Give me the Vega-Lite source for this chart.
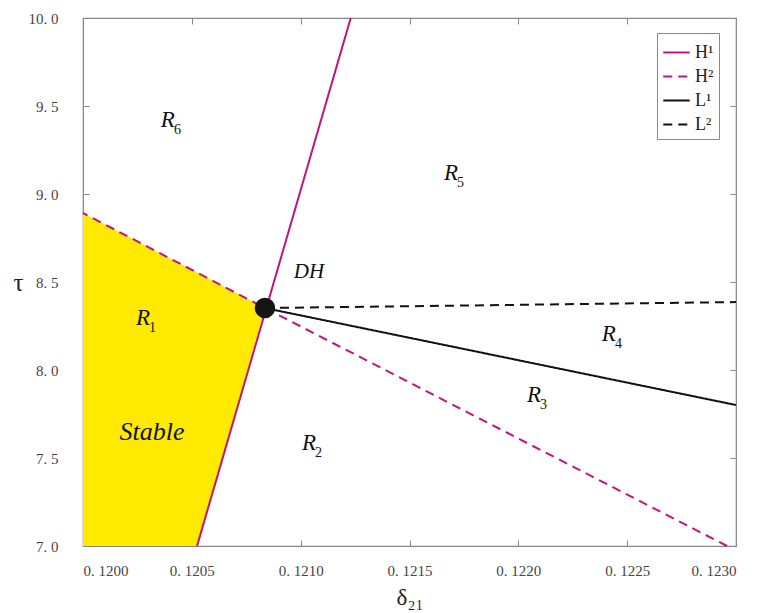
{
  "$schema": "https://vega.github.io/schema/vega-lite/v6.json",
  "width": 653,
  "height": 528,
  "autosize": "none",
  "padding": {"left": 83, "top": 18, "right": 27, "bottom": 67},
  "background": "white",
  "config": {
    "view": {"stroke": "#888", "strokeWidth": 1.2},
    "font": "Liberation Serif"
  },
  "datasets": {
    "stable": [
      {"tau": 7.0, "xEdge": 0.120524, "xLeft": 0.12},
      {"tau": 8.352, "xEdge": 0.120836, "xLeft": 0.12},
      {"tau": 8.892, "xEdge": 0.12, "xLeft": 0.12}
    ],
    "curves": [
      {"curve": "H¹", "delta": 0.120524, "tau": 7.0},
      {"curve": "H¹", "delta": 0.12123, "tau": 10.0},
      {"curve": "H²", "delta": 0.12, "tau": 8.892},
      {"curve": "H²", "delta": 0.120836, "tau": 8.352},
      {"curve": "H²", "delta": 0.122959, "tau": 7.0},
      {"curve": "L¹", "delta": 0.120836, "tau": 8.352},
      {"curve": "L¹", "delta": 0.123, "tau": 7.801},
      {"curve": "L²", "delta": 0.120836, "tau": 8.352},
      {"curve": "L²", "delta": 0.123, "tau": 8.386}
    ],
    "dh": [{"delta": 0.120836, "tau": 8.352}],
    "regions": [
      {"delta": 0.12039, "tau": 9.42, "main": "R", "sub": "6"},
      {"delta": 0.121691, "tau": 9.119, "main": "R", "sub": "5"},
      {"delta": 0.120276, "tau": 8.295, "main": "R", "sub": "1"},
      {"delta": 0.122416, "tau": 8.205, "main": "R", "sub": "4"},
      {"delta": 0.122072, "tau": 7.858, "main": "R", "sub": "3"},
      {"delta": 0.121038, "tau": 7.585, "main": "R", "sub": "2"}
    ],
    "names": [
      {"delta": 0.121038, "tau": 8.557, "name": "DH", "size": 21},
      {"delta": 0.120317, "tau": 7.648, "name": "Stable", "size": 26}
    ]
  },
  "layer": [
    {
      "data": {"name": "stable"},
      "mark": {"type": "area", "orient": "horizontal", "color": "#ffea00"},
      "encoding": {
        "y": {
          "field": "tau", "type": "quantitative",
          "scale": {"domain": [7, 10], "nice": false, "zero": false},
          "axis": {
            "values": [7, 7.5, 8, 8.5, 9, 9.5, 10],
            "labelExpr": "replace(format(datum.value, '.1f'), '.', '. ')",
            "tickSize": -6, "tickColor": "#888", "domainColor": "#888",
            "grid": false, "labelPadding": 31, "labelFontSize": 15,
            "labelColor": "#444", "labelFont": "Liberation Serif",
            "title": "τ", "titleAngle": 0, "titleFontSize": 25,
            "titleFontWeight": "normal", "titleFont": "Liberation Serif",
            "titleX": -65, "titleY": 264, "titleColor": "#222",
            "titleBaseline": "middle", "titleAlign": "center"
          }
        },
        "x": {
          "field": "xEdge", "type": "quantitative",
          "scale": {"domain": [0.12, 0.123], "nice": false, "zero": false},
          "axis": {
            "values": [0.12, 0.1205, 0.121, 0.1215, 0.122, 0.1225, 0.123],
            "labelExpr": "replace(format(datum.value, '.4f'), '.', '. ')",
            "tickSize": -6, "tickColor": "#888", "domainColor": "#888",
            "grid": false, "labelPadding": 23, "labelFontSize": 15,
            "labelColor": "#444", "labelFont": "Liberation Serif",
            "title": "δ₂₁", "titleFontSize": 23, "titleFontWeight": "normal",
            "titleFont": "Liberation Serif", "titleColor": "#222",
            "titlePadding": 8
          }
        },
        "x2": {"field": "xLeft"}
      }
    },
    {
      "data": {"name": "curves"},
      "mark": {"type": "line", "strokeWidth": 2},
      "encoding": {
        "x": {"field": "delta", "type": "quantitative", "axis": null},
        "y": {"field": "tau", "type": "quantitative", "axis": null},
        "color": {
          "field": "curve", "type": "nominal",
          "scale": {"domain": ["H¹", "H²", "L¹", "L²"], "range": ["#c0157e", "#c0157e", "#111111", "#111111"]},
          "legend": {
            "title": null, "orient": "none", "legendX": 574, "legendY": 15,
            "strokeColor": "#888", "fillColor": "white", "padding": 5,
            "symbolType": "stroke", "symbolSize": 700, "symbolStrokeWidth": 2,
            "labelFontSize": 18, "labelFont": "Liberation Serif", "labelColor": "#222",
            "rowPadding": -4, "labelOffset": 4, "cornerRadius": 0
          }
        },
        "strokeDash": {
          "field": "curve", "type": "nominal",
          "scale": {"domain": ["H¹", "H²", "L¹", "L²"], "range": [[1, 0], [9, 6], [1, 0], [9, 6]]},
          "legend": {
            "title": null, "orient": "none", "legendX": 574, "legendY": 15,
            "strokeColor": "#888", "fillColor": "white", "padding": 5,
            "symbolType": "stroke", "symbolSize": 700, "symbolStrokeWidth": 2,
            "labelFontSize": 18, "labelFont": "Liberation Serif", "labelColor": "#222",
            "rowPadding": -4, "labelOffset": 4, "cornerRadius": 0
          }
        },
        "order": {"field": "tau", "type": "quantitative"}
      }
    },
    {
      "data": {"name": "dh"},
      "mark": {"type": "circle", "size": 420, "color": "#151515", "opacity": 1},
      "encoding": {
        "x": {"field": "delta", "type": "quantitative",
          "axis": {"orient": "top", "values": [0.12, 0.1205, 0.121, 0.1215, 0.122, 0.1225, 0.123],
            "labels": false, "tickSize": -6, "tickColor": "#888", "domainColor": "#888", "title": null, "grid": false}},
        "y": {"field": "tau", "type": "quantitative",
          "axis": {"orient": "right", "values": [7, 7.5, 8, 8.5, 9, 9.5, 10],
            "labels": false, "tickSize": -6, "tickColor": "#888", "domainColor": "#888", "title": null, "grid": false}}
      }
    },
    {
      "data": {"name": "regions"},
      "mark": {"type": "text", "font": "Liberation Serif", "fontStyle": "italic", "fontSize": 23, "color": "#111", "align": "center", "baseline": "middle"},
      "encoding": {
        "x": {"field": "delta", "type": "quantitative", "axis": null},
        "y": {"field": "tau", "type": "quantitative", "axis": null},
        "text": {"field": "main"}
      }
    },
    {
      "data": {"name": "regions"},
      "mark": {"type": "text", "font": "Liberation Serif", "fontSize": 14, "color": "#111", "align": "left", "baseline": "middle", "dx": 6, "dy": 10},
      "encoding": {
        "x": {"field": "delta", "type": "quantitative", "axis": null},
        "y": {"field": "tau", "type": "quantitative", "axis": null},
        "text": {"field": "sub"}
      }
    },
    {
      "data": {"name": "names"},
      "mark": {"type": "text", "font": "Liberation Serif", "fontStyle": "italic", "color": "#111", "align": "center", "baseline": "middle"},
      "encoding": {
        "x": {"field": "delta", "type": "quantitative", "axis": null},
        "y": {"field": "tau", "type": "quantitative", "axis": null},
        "text": {"field": "name"},
        "size": {"field": "size", "type": "quantitative", "scale": null, "legend": null}
      }
    }
  ],
  "resolve": {"axis": {"x": "independent", "y": "independent"}}
}
